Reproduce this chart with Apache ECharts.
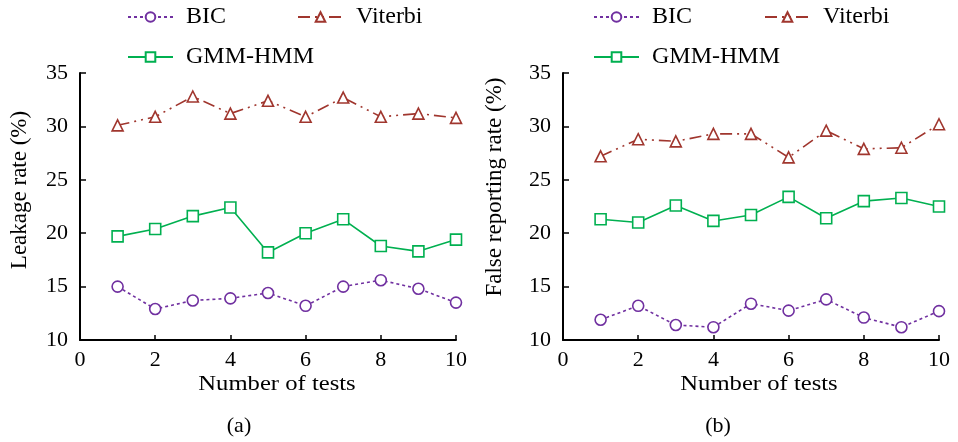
<!DOCTYPE html>
<html>
<head>
<meta charset="utf-8">
<script src="https://cdn.jsdelivr.net/npm/echarts@6/dist/echarts.min.js"></script>
<style>
  html, body { margin: 0; padding: 0; background: #fff; }
  #chart { width: 958px; height: 442px; }
</style>
</head>
<body>
<div id="chart"></div>
<script>
// Test index (x axis)
const tests = [1, 2, 3, 4, 5, 6, 7, 8, 9, 10];

// (a) Leakage rate (%)
const leakBIC     = [15.0, 12.9, 13.7, 13.9, 14.4, 13.2, 15.0, 15.6, 14.8, 13.5];
const leakViterbi = [30.1, 30.9, 32.8, 31.2, 32.4, 30.9, 32.7, 30.9, 31.2, 30.8];
const leakGMM     = [19.7, 20.4, 21.6, 22.4, 18.2, 20.0, 21.3, 18.8, 18.3, 19.4];

// (b) False reporting rate (%)
const falseBIC     = [11.9, 13.2, 11.4, 11.2, 13.4, 12.75, 13.8, 12.1, 11.2, 12.7];
const falseViterbi = [27.2, 28.8, 28.6, 29.3, 29.3, 27.1, 29.6, 27.9, 28.0, 30.2];
const falseGMM     = [21.3, 21.0, 22.6, 21.15, 21.7, 23.4, 21.4, 23.0, 23.3, 22.5];

const xTicks = [0, 2, 4, 6, 8, 10];
const yTicks = [10, 15, 20, 25, 30, 35];

const FONT = '"Liberation Serif", "DejaVu Serif", serif';
const C_BIC = '#7030A0';
const C_VIT = '#A0362E';
const C_GMM = '#00B050';

const pairs = (ys) => ys.map((y, i) => [tests[i], y]);

function xAxisFor(gridIndex) {
  return {
    type: 'value', gridIndex,
    min: xTicks[0], max: xTicks[xTicks.length - 1], interval: 2,
    axisLine: { show: true, lineStyle: { color: '#000', width: 2 } },
    axisTick: { show: true, inside: true, length: 5, lineStyle: { color: '#000', width: 1.5 } },
    axisLabel: { color: '#000', fontFamily: FONT, fontSize: 22, margin: 9 },
    splitLine: { show: false }
  };
}
function yAxisFor(gridIndex) {
  return {
    type: 'value', gridIndex,
    min: yTicks[0], max: yTicks[yTicks.length - 1], interval: 5,
    axisLine: { show: true, lineStyle: { color: '#000', width: 2 } },
    axisTick: { show: true, inside: true, length: 6, lineStyle: { color: '#000', width: 1.5 } },
    axisLabel: { color: '#000', fontFamily: FONT, fontSize: 22, margin: 12 },
    splitLine: { show: false }
  };
}

function mkSeries(name, data, idx, color, symbol, size, dash) {
  return {
    name, type: 'line', xAxisIndex: idx, yAxisIndex: idx,
    data: pairs(data),
    symbol, symbolSize: size, showSymbol: true,
    lineStyle: { color, width: 1.6, type: dash },
    itemStyle: { color: '#fff', borderColor: color, borderWidth: 1.6 },
    z: 3, animation: false
  };
}

const series = [];
[[leakBIC, leakViterbi, leakGMM], [falseBIC, falseViterbi, falseGMM]].forEach((set, idx) => {
  series.push(mkSeries('BIC', set[0], idx, C_BIC, 'circle', 11, [3, 3]));
  series.push(mkSeries('Viterbi', set[1], idx, C_VIT, 'triangle', 11, [12, 5, 2, 5, 2, 5]));
  series.push(mkSeries('GMM-HMM', set[2], idx, C_GMM, 'rect', 11, 'solid'));
});

function legendAt(name, left, top) {
  return {
    data: [name], left, top, orient: 'horizontal', padding: 0,
    itemWidth: 45, itemHeight: 12, itemGap: 0,
    textStyle: { fontFamily: FONT, fontSize: 24, color: '#000', padding: [0, 0, 0, 8] },
    selectedMode: false
  };
}

function label(text, x, y, size, rotate, sx) {
  return {
    type: 'text', x, y, rotation: rotate ? Math.PI / 2 : 0, scaleX: sx || 1,
    style: { text, font: size + 'px ' + FONT, fill: '#000', align: 'center', verticalAlign: 'middle' }
  };
}

const option = {
  backgroundColor: '#fff',
  animation: false,
  grid: [
    { left: 80, top: 73, width: 376, height: 267 },
    { left: 563, top: 73, width: 376, height: 267 }
  ],
  xAxis: [xAxisFor(0), xAxisFor(1)],
  yAxis: [yAxisFor(0), yAxisFor(1)],
  legend: [
    legendAt('BIC', 127, 5),
    legendAt('Viterbi', 297, 5),
    legendAt('GMM-HMM', 127, 45),
    legendAt('BIC', 593, 5),
    legendAt('Viterbi', 764, 5),
    legendAt('GMM-HMM', 593, 45)
  ],
  graphic: [
    label('Leakage rate (%)', 20, 190, 23, true),
    label('False reporting rate (%)', 495, 187, 23, true),
    label('Number of tests', 277, 384, 22, false, 1.12),
    label('Number of tests', 759, 384, 22, false, 1.12),
    label('(a)', 239, 426, 22),
    label('(b)', 718, 426, 22)
  ],
  series
};

const chart = echarts.init(document.getElementById('chart'), null, { renderer: 'canvas' });
chart.setOption(option);
</script>
</body>
</html>
